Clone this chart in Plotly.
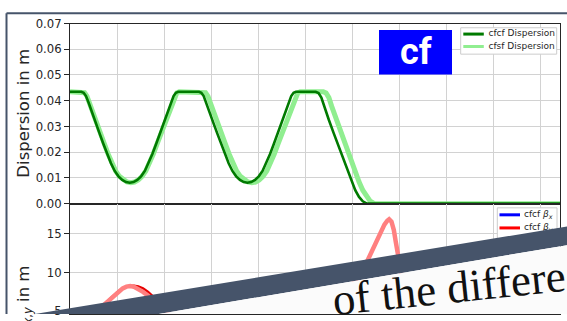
import plotly.graph_objects as go

# ---- dispersion along the line (position s, dispersion in m) ----
s_cfcf = [0, 0.24, 0.29, 0.34, 0.40, 0.47, 0.55, 0.63, 0.71, 0.79, 0.87, 0.95, 1.03, 1.11, 1.19,
          1.27, 1.35, 1.43, 1.51, 1.59, 1.67, 1.75, 1.83, 1.91, 1.99, 2.07, 2.14, 2.20, 2.25, 2.30,
          2.74, 2.79, 2.84, 2.90, 2.97, 3.05, 3.13, 3.21, 3.29, 3.37, 3.45, 3.53, 3.61, 3.69,
          3.77, 3.85, 3.93, 4.01, 4.09, 4.17, 4.25, 4.33, 4.41, 4.49, 4.57, 4.64, 4.70, 4.75, 4.80,
          5.22, 5.28, 5.34, 5.40, 5.50, 5.60, 5.70, 5.80, 5.90, 5.98, 6.06, 6.14, 6.22, 6.30, 6.36, 10.41]
d_cfcf = [0.0435, 0.0435, 0.0431, 0.0418, 0.0390, 0.0352, 0.0312, 0.0272, 0.0232, 0.0193, 0.0157, 0.0127, 0.0106, 0.0092, 0.0084,
          0.0081, 0.0084, 0.0092, 0.0106, 0.0127, 0.0157, 0.0193, 0.0232, 0.0272, 0.0312, 0.0352, 0.0390, 0.0418, 0.0431, 0.0435,
          0.0435, 0.0431, 0.0418, 0.0390, 0.0352, 0.0312, 0.0272, 0.0232, 0.0193, 0.0157, 0.0127, 0.0106, 0.0092, 0.0084,
          0.0081, 0.0084, 0.0092, 0.0106, 0.0127, 0.0157, 0.0193, 0.0232, 0.0272, 0.0312, 0.0352, 0.0390, 0.0418, 0.0431, 0.0435,
          0.0435, 0.0430, 0.0412, 0.0378, 0.0325, 0.0275, 0.0225, 0.0175, 0.0125, 0.0085, 0.0052, 0.0026, 0.0009, 0.0001, 0.0, 0.0]

s_cfsf = [0, 0.26, 0.31, 0.36, 0.42, 0.49, 0.57, 0.65, 0.73, 0.81, 0.89, 0.97, 1.05, 1.13, 1.21,
          1.29, 1.37, 1.45, 1.53, 1.61, 1.69, 1.77, 1.85, 1.93, 2.01, 2.09, 2.16, 2.22, 2.27, 2.32,
          2.83, 2.88, 2.93, 2.99, 3.06, 3.14, 3.22, 3.30, 3.38, 3.46, 3.54, 3.62, 3.70, 3.78,
          3.86, 3.94, 4.02, 4.10, 4.18, 4.26, 4.34, 4.42, 4.50, 4.58, 4.66, 4.73, 4.79, 4.84, 4.89,
          5.38, 5.44, 5.50, 5.56, 5.66, 5.76, 5.86, 5.96, 6.06, 6.14, 6.22, 6.30, 6.38, 6.46, 6.52, 10.41]
d_cfsf = [0.0435, 0.0435, 0.0431, 0.0418, 0.0390, 0.0352, 0.0312, 0.0272, 0.0232, 0.0193, 0.0157, 0.0127, 0.0106, 0.0092, 0.0084,
          0.0081, 0.0084, 0.0092, 0.0106, 0.0127, 0.0157, 0.0193, 0.0232, 0.0272, 0.0312, 0.0352, 0.0390, 0.0418, 0.0431, 0.0435,
          0.0435, 0.0431, 0.0418, 0.0390, 0.0352, 0.0312, 0.0272, 0.0232, 0.0193, 0.0157, 0.0127, 0.0106, 0.0092, 0.0084,
          0.0081, 0.0084, 0.0092, 0.0106, 0.0127, 0.0157, 0.0193, 0.0232, 0.0272, 0.0312, 0.0352, 0.0390, 0.0418, 0.0431, 0.0435,
          0.0435, 0.0430, 0.0412, 0.0378, 0.0325, 0.0275, 0.0225, 0.0175, 0.0125, 0.0085, 0.0052, 0.0026, 0.0009, 0.0001, 0.0, 0.0]

# ---- vertical beta function (m) ----
s_beta = [0, 0.3, 0.55, 0.75, 0.9, 1.02, 1.12, 1.2, 1.28, 1.36, 1.45, 1.55, 1.66, 1.8, 2.0, 2.3, 2.7,
          3.2, 3.8, 4.4, 5.0, 5.6, 6.0, 6.2, 6.34, 6.46, 6.58, 6.68, 6.74, 6.78, 6.83, 6.88, 6.92, 6.96,
          7.05, 7.3, 7.8, 8.5, 9.2, 10.41]
by_cfsf = [2.5, 3.6, 4.9, 6.0, 6.9, 7.55, 7.95, 8.18, 8.25, 8.15, 7.9, 7.5, 7.0, 6.2, 5.0, 3.8, 3.0,
           3.2, 4.0, 4.8, 5.5, 6.8, 8.5, 10.0, 11.8, 13.4, 15.0, 16.2, 16.7, 16.9, 16.6, 15.5, 14.0, 12.3,
           9.5, 6.0, 3.5, 2.5, 2.2, 2.0]
by_cfcf = [2.5, 3.6, 4.9, 6.0, 6.9, 7.55, 7.95, 8.18, 8.27, 8.3, 8.2, 7.95, 7.5, 6.7, 5.4, 3.9, 3.0,
           3.2, 4.0, 4.8, 5.5, 6.8, 8.5, 10.0, 11.8, 13.4, 15.0, 16.2, 16.7, 16.9, 16.6, 15.5, 14.0, 12.3,
           9.5, 6.0, 3.5, 2.5, 2.2, 2.0]

disp_labels = ["cfcf Dispersion", "cfsf Dispersion"]
beta_labels = ["cfcf <i>β</i><sub><i>x</i></sub>", "cfcf <i>β</i><sub><i>y</i></sub>"]
disp_ticks = [0, 0.01, 0.02, 0.03, 0.04, 0.05, 0.06, 0.07]
beta_ticks = [5, 10, 15]

W, H = 567, 321
FONT = "DejaVu Sans"
INK = "#262626"
GRID = "#d2d2d2"
SLATE = "#46546a"

DARK_GREEN = "#007a00"
LIGHT_GREEN = "#90ee90"

# axes frame in pixels
AX_L, AX_R = 70, 560
AX_T, AX_MID = 17.3, 205.6

fig = go.Figure()

# top panel: dispersion
fig.add_trace(go.Scatter(x=s_cfsf, y=d_cfsf, mode="lines", xaxis="x", yaxis="y",
                         line=dict(color=LIGHT_GREEN, width=5), showlegend=False))
fig.add_trace(go.Scatter(x=s_cfcf, y=d_cfcf, mode="lines", xaxis="x", yaxis="y",
                         line=dict(color=DARK_GREEN, width=2.6), showlegend=False))

# bottom panel: beta functions
fig.add_trace(go.Scatter(x=s_beta, y=by_cfcf, mode="lines", xaxis="x2", yaxis="y2",
                         line=dict(color="#e60000", width=2.4), showlegend=False))
fig.add_trace(go.Scatter(x=s_beta, y=by_cfsf, mode="lines", xaxis="x2", yaxis="y2",
                         line=dict(color="#ff8080", width=4.5), showlegend=False))

# legend texts on a full-page pixel overlay
fig.add_trace(go.Scatter(
    x=[488.5, 488.5, 524, 524], y=[28.3, 41.3, 217.3, 231.0],
    text=disp_labels + beta_labels, mode="text", textposition="middle right",
    textfont=dict(family=FONT, size=9, color=INK),
    xaxis="x3", yaxis="y3", showlegend=False, hoverinfo="skip", cliponaxis=False))

common_x = dict(range=[0, 10.41], dtick=1, tick0=0, showticklabels=False, ticks="",
                showgrid=True, gridcolor=GRID, gridwidth=1, zeroline=False,
                showline=True, mirror=True, linecolor=INK, linewidth=1)
common_y = dict(ticks="outside", ticklen=5, tickwidth=1, tickcolor=INK,
                tickfont=dict(family=FONT, size=11.7, color=INK),
                showgrid=True, gridcolor=GRID, gridwidth=1, zeroline=False,
                showline=True, mirror=True, linecolor=INK, linewidth=1)

fig.update_layout(
    width=W, height=H, margin=dict(l=0, r=0, t=0, b=0),
    paper_bgcolor="white", plot_bgcolor="rgba(0,0,0,0)",
    xaxis=dict(domain=[AX_L / W, AX_R / W], anchor="y", **common_x),
    yaxis=dict(domain=[1 - AX_MID / H, 1 - AX_T / H], anchor="x", range=[0, 0.07],
               tickvals=disp_ticks, tickformat=".2f", **common_y),
    xaxis2=dict(domain=[AX_L / W, AX_R / W], anchor="y2", **common_x),
    yaxis2=dict(domain=[0, 1 - AX_MID / H], anchor="x2", range=[4.64, 18.92],
                tickvals=beta_ticks, **common_y),
    xaxis3=dict(domain=[0, 1], range=[0, W], visible=False, anchor="y3", fixedrange=True),
    yaxis3=dict(domain=[0, 1], range=[H, 0], visible=False, anchor="x3", fixedrange=True),
)

shapes = []
# legend boxes (above gridlines, below legend text)
shapes.append(dict(type="rect", xref="x3", yref="y3", x0=460.7, x1=556.7, y0=21.7, y1=49.3,
                   layer="between", fillcolor="white", line=dict(color="#cccccc", width=1)))
shapes.append(dict(type="rect", xref="x3", yref="y3", x0=497.3, x1=557.0, y0=210.0, y1=266.0,
                   layer="between", fillcolor="white", line=dict(color="#cccccc", width=1)))
# legend line keys
for y, c in [(28.3, DARK_GREEN), (41.3, LIGHT_GREEN), (217.3, "#0000ff"), (231.0, "#ff0000")]:
    x0 = 463.3 if y < 100 else 499.5
    shapes.append(dict(type="line", xref="x3", yref="y3", x0=x0, x1=x0 + 20.5, y0=y, y1=y,
                       layer="above", line=dict(color=c, width=3)))
# "cf" badge
shapes.append(dict(type="rect", xref="x3", yref="y3", x0=379, x1=452, y0=24, y1=70.7,
                   layer="above", fillcolor="#0000ff", line=dict(width=0)))
# slide frame
shapes.append(dict(type="line", xref="x3", yref="y3", x0=6.5, x1=W, y0=6.5, y1=6.5,
                   layer="above", line=dict(color=SLATE, width=2)))
shapes.append(dict(type="line", xref="x3", yref="y3", x0=6.5, x1=6.5, y0=6.5, y1=H,
                   layer="above", line=dict(color=SLATE, width=2)))
# tilted dark band and the sheet of paper beneath it
shapes.append(dict(type="path", xref="x3", yref="y3", layer="above",
                   path=f"M 0,327 L {W},229.5 L {W},249 L 0,349 Z",
                   fillcolor=SLATE, line=dict(width=0)))
shapes.append(dict(type="path", xref="x3", yref="y3", layer="above",
                   path=f"M 0,349 L {W},249 L {W},{H} L 0,{H} Z",
                   fillcolor="#fbfbfb", line=dict(width=0)))
fig.update_layout(shapes=shapes)

annotations = [
    dict(x=24, y=111.5, xref="x3", yref="y3", text="Dispersion in m", textangle=-90,
         showarrow=False, font=dict(family=FONT, size=16.5, color=INK)),
    dict(x=24, y=307.5, xref="x3", yref="y3",
         text="<i>β</i><sub><i>x</i>,<i>y</i></sub> in m", textangle=-90,
         showarrow=False, font=dict(family=FONT, size=16.5, color=INK)),
    dict(x=415.5, y=47.3, xref="x3", yref="y3", text="<b>cf</b>", showarrow=False,
         font=dict(family="Roboto", size=36, color="white")),
    dict(x=449.0, y=294.0, xref="x3", yref="y3", text="of the differe", textangle=-6,
         showarrow=False, font=dict(family="Liberation Serif", size=45, color="#111111")),
]
fig.update_layout(annotations=annotations)

fig.write_html("out.html")
